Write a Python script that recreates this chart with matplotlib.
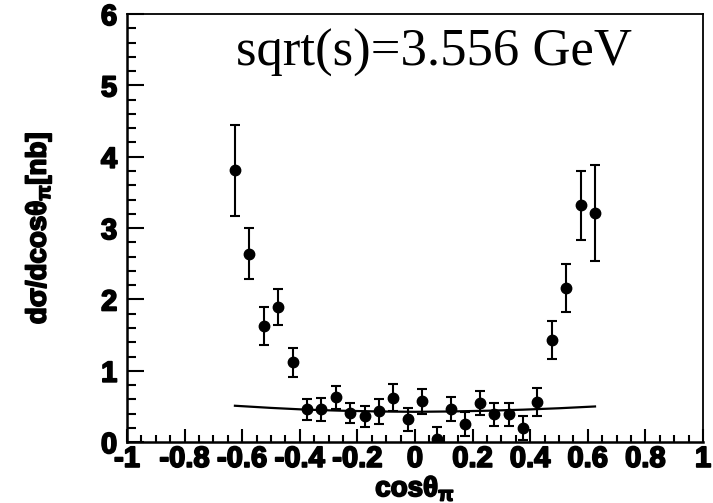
import numpy as np
import matplotlib
matplotlib.use("Agg")
import matplotlib.pyplot as plt
import matplotlib.patheffects as pe
from matplotlib.ticker import MultipleLocator

plt.rcParams["font.family"] = ["Liberation Sans", "DejaVu Sans"]
plt.rcParams["mathtext.fontset"] = "custom"
plt.rcParams["mathtext.rm"] = "Liberation Sans:bold"
plt.rcParams["mathtext.bf"] = "Liberation Sans:bold"
plt.rcParams["mathtext.it"] = "Liberation Sans:bold"
plt.rcParams["mathtext.default"] = "bf"

# data points: cos(theta_pi) bins, dsigma/dcos, errors
cos_theta = [-0.625, -0.575, -0.525, -0.475, -0.425, -0.375, -0.325, -0.275, -0.225,
             -0.175, -0.125, -0.075, -0.025, 0.025, 0.075, 0.125, 0.175, 0.225,
             0.275, 0.325, 0.375, 0.425, 0.475, 0.525, 0.575, 0.625]
dsigma = [3.81, 2.64, 1.63, 1.89, 1.12, 0.46, 0.46, 0.63, 0.41,
          0.36, 0.43, 0.62, 0.32, 0.57, 0.04, 0.46, 0.25, 0.55,
          0.39, 0.39, 0.20, 0.56, 1.43, 2.16, 3.32, 3.21]
dsigma_err = [0.64, 0.36, 0.27, 0.25, 0.20, 0.15, 0.16, 0.16, 0.14,
              0.15, 0.17, 0.19, 0.16, 0.18, 0.17, 0.17, 0.17, 0.17,
              0.16, 0.16, 0.17, 0.20, 0.27, 0.34, 0.48, 0.67]

# model curve
curve_x = [-0.625, -0.5, -0.375, -0.25, -0.125, 0.0, 0.125, 0.25, 0.375, 0.5, 0.625]
curve_y = [0.51, 0.48, 0.455, 0.44, 0.43, 0.425, 0.43, 0.44, 0.455, 0.475, 0.50]

x_ticks = [-1, -0.8, -0.6, -0.4, -0.2, 0, 0.2, 0.4, 0.6, 0.8, 1]
x_ticklabels = ["-1", "-0.8", "-0.6", "-0.4", "-0.2", "0", "0.2", "0.4", "0.6", "0.8", "1"]

fig = plt.figure(figsize=(7.13, 5.03), dpi=100)
ax = fig.add_axes([0.178, 0.121, 0.808, 0.851])

ax.plot(curve_x, curve_y, color="black", lw=1.6, zorder=2)
ax.errorbar(cos_theta, dsigma, yerr=dsigma_err, fmt="o", color="black",
            ms=7.5, elinewidth=1.5, capsize=3.5, capthick=1.5, zorder=3, clip_on=True)

ax.set_xlim(-1, 1)
ax.set_ylim(0, 6)
ax.set_xticks(x_ticks)
ax.set_xticklabels(x_ticklabels)
ax.xaxis.set_minor_locator(MultipleLocator(0.05))
ax.yaxis.set_major_locator(MultipleLocator(1))
ax.yaxis.set_minor_locator(MultipleLocator(0.2))

ax.tick_params(axis="x", which="major", direction="in", length=9.5, width=1.5,
               labelsize=21, pad=2, top=False)
ax.tick_params(axis="x", which="minor", direction="in", length=5, width=1.5, top=False)
ax.tick_params(axis="y", which="major", direction="in", length=12, width=1.5,
               labelsize=21, pad=7, right=False)
ax.tick_params(axis="y", which="minor", direction="in", length=6.5, width=1.5, right=False)

# heavier strokes, like the ROOT helvetica-bold output
heavy = [pe.withStroke(linewidth=1.3, foreground="black")]
for lab in ax.get_xticklabels() + ax.get_yticklabels():
    lab.set_fontweight("bold")
    lab.set_path_effects(heavy)

for s in ["left", "bottom"]:
    ax.spines[s].set_linewidth(1.8)
for s in ["top", "right"]:
    ax.spines[s].set_linewidth(1.3)

ax.set_xlabel(r"cosθ$_{\pi}$", fontsize=20, fontweight="bold", labelpad=1,
              path_effects=heavy)
ax.set_ylabel(r"dσ/dcosθ$_{\pi}$[nb]", fontsize=20, fontweight="bold", labelpad=34,
              path_effects=heavy)

ax.text(0.19, 0.965, "sqrt(s)=3.556 GeV", transform=ax.transAxes, fontsize=38,
        family="Liberation Serif", ha="left", va="top")

fig.savefig("out.png", dpi=100)
